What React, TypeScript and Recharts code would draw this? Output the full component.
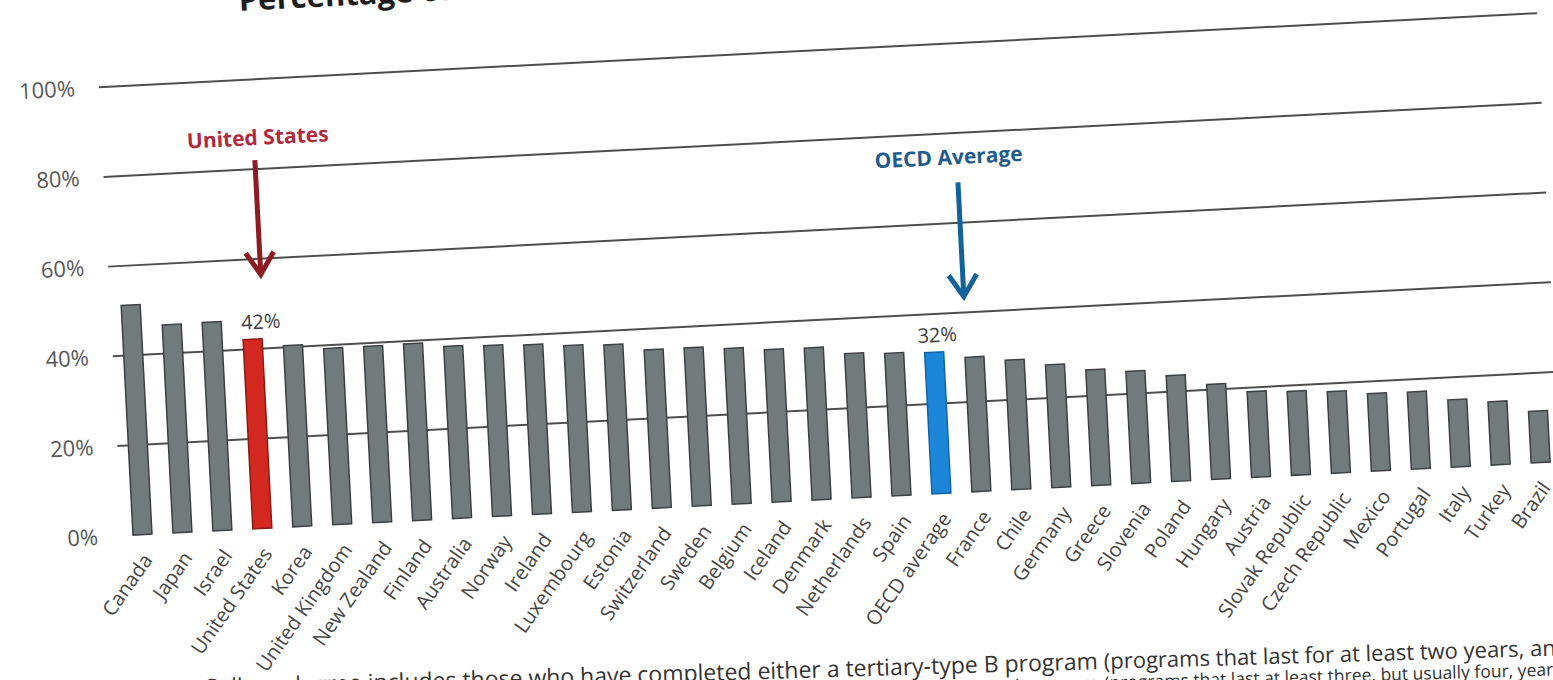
import React from 'react';
import { BarChart, Bar, XAxis, YAxis, CartesianGrid, Cell, LabelList, ReferenceLine, ReferenceDot } from 'recharts';

// countries in the order shown, share of adults with a college degree (%)
const countries = [
    'Canada', 'Japan', 'Israel', 'United States', 'Korea', 'United Kingdom', 'New Zealand', 'Finland',
    'Australia', 'Norway', 'Ireland', 'Luxembourg', 'Estonia', 'Switzerland', 'Sweden', 'Belgium',
    'Iceland', 'Denmark', 'Netherlands', 'Spain', 'OECD average', 'France', 'Chile', 'Germany',
    'Greece', 'Slovenia', 'Poland', 'Hungary', 'Austria', 'Slovak Republic', 'Czech Republic',
    'Mexico', 'Portugal', 'Italy', 'Turkey', 'Brazil',
];
const shares = [
    51.2, 46.4, 46.5, 42.2, 40.4, 39.3, 39.3, 39.4,
    38.4, 38.1, 37.8, 37.2, 36.9, 35.3, 35.3, 34.7,
    34.0, 33.9, 32.2, 31.8, 31.5, 30.0, 28.9, 27.4,
    25.8, 25.0, 23.6, 21.2, 19.1, 18.7, 18.2,
    17.3, 17.2, 15.0, 14.1, 11.5,
];
const yTicks = [0, 20, 40, 60, 80, 100];
const gridValues = [20, 40, 60, 80, 100];
const usName = 'United States';
const oecdName = 'OECD average';
// callout texts and the value levels they sit at
const usCallout = { text: 'United States', labelAt: 87, from: 82, to: 56.5 };
const oecdCallout = { text: 'OECD Average', labelAt: 74.7, from: 69, to: 43.5 };

const data = countries.map((c, i) => ({ country: c, share: shares[i] }));

const FONT = '"Open Sans", sans-serif';

const colorFor = (c: string) => {
    if (c === usName) return { fill: '#d3281f', stroke: '#8c1a14' };
    if (c === oecdName) return { fill: '#1c86d9', stroke: '#1463a6' };
    return { fill: '#727b7c', stroke: '#3c4143' };
};

const XTick = (props: any) => {
    const { x, y, payload } = props;
    const tx = x + 10;
    const ty = y + 26;
    return (
        <text x={tx} y={ty} transform={`rotate(-52, ${tx}, ${ty})`} textAnchor="end"
            fontSize={20} fill="#454545" fontFamily={FONT}>
            {payload.value}
        </text>
    );
};

const makeArrow = (color: string, dx: number) => (p: any) => {
    const x = p.x1 + dx;
    const y1 = p.y1;
    const y2 = p.y2;
    return (
        <g>
            <line x1={x} y1={y1} x2={x} y2={y2 - 3} stroke={color} strokeWidth={5} />
            <polyline points={`${x - 14},${y2 - 22} ${x},${y2} ${x + 14},${y2 - 22}`}
                fill="none" stroke={color} strokeWidth={5} strokeLinejoin="miter" />
        </g>
    );
};

const makeCalloutText = (text: string, color: string, dx: number) => (p: any) => (
    <text x={p.cx + dx} y={p.cy} dy="0.35em" textAnchor="middle" fontSize={21}
        fontWeight={700} fill={color} fontFamily={FONT}>
        {text}
    </text>
);

const ValueLabel = (props: any) => {
    const { x, y, width, value, index } = props;
    const c = countries[index];
    if (c !== usName && c !== oecdName) return null;
    const dx = c === usName ? 9 : 4;
    return (
        <text x={x + width / 2 + dx} y={y - 10} textAnchor="middle" fontSize={20}
            fill="#3f3f3f" fontFamily={FONT}>
            {`${Math.round(value)}%`}
        </text>
    );
};

const App: React.FC = () => {
    return (
        <div style={{ position: 'absolute', left: 0, top: 0, width: 1553, height: 680, overflow: 'hidden', background: '#fff' }}>
            <div style={{
                position: 'absolute', left: 0, top: 0, width: 1620, height: 760,
                transform: 'rotate(-2.95deg)', transformOrigin: '135px 535px',
            }}>
                <BarChart width={1620} height={760} data={data}
                    margin={{ top: 86, right: 58, bottom: 0, left: 0 }} barCategoryGap={0}>
                    <CartesianGrid vertical={false} horizontalValues={gridValues} stroke="#4e4e4e" strokeWidth={2} />
                    <XAxis dataKey="country" interval={0} height={225} tickSize={0} tickMargin={0}
                        axisLine={false} tickLine={false} tick={<XTick />} />
                    <YAxis type="number" domain={[0, 100]} ticks={yTicks} width={122}
                        axisLine={false} tickLine={false} tickSize={0} tickMargin={24}
                        tickFormatter={(v) => `${v}%`}
                        tick={{ fontSize: 22, fill: '#575757', fontFamily: FONT }} />
                    <Bar dataKey="share" barSize={19} strokeWidth={1.5} isAnimationActive={false}>
                        {data.map((d) => {
                            const col = colorFor(d.country);
                            return <Cell key={d.country} fill={col.fill} stroke={col.stroke} />;
                        })}
                        <LabelList dataKey="share" content={<ValueLabel />} />
                    </Bar>
                    <ReferenceLine
                        segment={[{ x: usName, y: usCallout.from }, { x: usName, y: usCallout.to }]}
                        shape={makeArrow('#8e1b22', 12)} />
                    <ReferenceDot x={usName} y={usCallout.labelAt} r={0}
                        shape={makeCalloutText(usCallout.text, '#b12a40', 16)} />
                    <ReferenceLine
                        segment={[{ x: oecdName, y: oecdCallout.from }, { x: oecdName, y: oecdCallout.to }]}
                        shape={makeArrow('#15629a', 33)} />
                    <ReferenceDot x={oecdName} y={oecdCallout.labelAt} r={0}
                        shape={makeCalloutText(oecdCallout.text, '#1f5b8c', 25)} />
                </BarChart>
                <svg width={1620} height={760} style={{ position: 'absolute', left: 0, top: 0, pointerEvents: 'none' }}>
                    <text x={266} y={17} fontSize={31} fontWeight={700} fill="#1d1d1d" fontFamily={FONT}>
                        Percentage of Adults with a College Degree
                    </text>
                    <g transform="rotate(1.25, 700, 705)">
                        <text x={1090} y={710} textAnchor="end" fontSize={23} fill="#333" fontFamily={FONT}>
                            Note: College degree includes those who have completed either a tertiary-type B program
                        </text>
                        <text x={1096} y={710} fontSize={22} fill="#333" fontFamily={FONT}>
                            (programs that last for at least two years, and are occupationally specific)
                        </text>
                        <text x={1090} y={730} textAnchor="end" fontSize={17.5} fill="#333" fontFamily={FONT}>
                            or a tertiary-type A program
                        </text>
                        <text x={1096} y={730} fontSize={17.5} fill="#333" fontFamily={FONT}>
                            (programs that last at least three, but usually four, years, and are largely theory-based).
                        </text>
                    </g>
                </svg>
            </div>
        </div>
    );
};

export default App;
